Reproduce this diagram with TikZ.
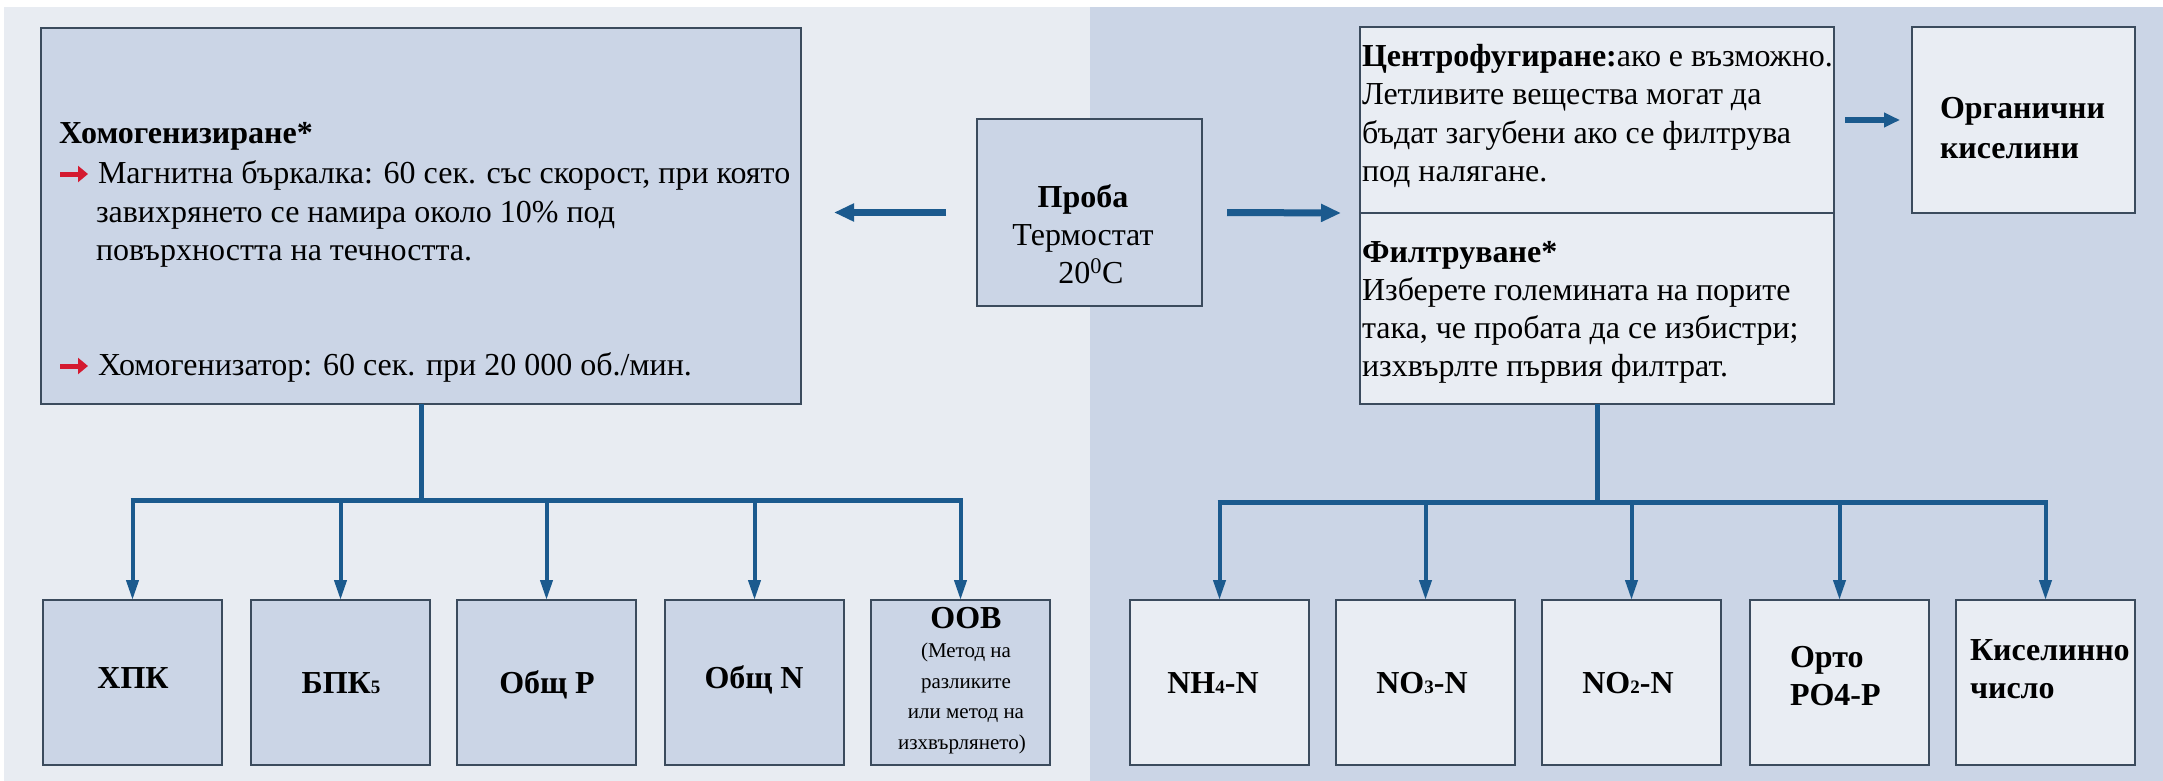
\documentclass[tikz,border=0pt]{standalone}
\usepackage{fontspec}
\setmainfont{Liberation Serif}
\usetikzlibrary{arrows.meta}
\definecolor{bgL}{HTML}{E8ECF2}
\definecolor{bgR}{HTML}{CBD5E6}
\definecolor{fillD}{HTML}{CBD5E6}
\definecolor{fillL}{HTML}{E9EDF3}
\definecolor{edgeC}{HTML}{3B4B5D}
\definecolor{flowC}{HTML}{1B5A8E}
\definecolor{redC}{HTML}{D41A30}
\newcommand\fsz[2]{\fontsize{#1}{#2}\selectfont}
\newcommand\lowsub[1]{{\fsz{19}{19}#1}}
\tikzset{
  box/.style={draw=edgeC, line width=2pt, anchor=north west, inner sep=0pt, outer sep=0pt},
  txt/.style={inner sep=0pt, outer sep=0pt, font=\fsz{32}{38}},
  btxt/.style={inner sep=0pt, outer sep=0pt, font=\fsz{32}{38}\bfseries},
  stxt/.style={inner sep=0pt, outer sep=0pt, font=\fsz{21}{30}},
  flowarr/.style={draw=flowC, line width=7pt, -{Triangle[length=20pt,width=17pt]}},
  smallarr/.style={draw=flowC, line width=6pt, -{Triangle[length=16pt,width=14pt]}},
  trunk/.style={draw=flowC, line width=5pt},
  drop/.style={draw=flowC, line width=4pt, -{Triangle[length=20pt,width=12pt]}},
  bulletarr/.style={draw=redC, line width=5pt, -{Triangle[length=10pt,width=16pt]}},
}
\begin{document}
\begin{tikzpicture}[x=1pt,y=-1pt]
\useasboundingbox (0,0) rectangle (2163,781);
\fill[white] (0,0) rectangle (2163,781);
\fill[bgL] (4,7) rectangle (1090,781);
\fill[bgR] (1090,7) rectangle (2163,781);

% main boxes
\node[box, fill=fillD, minimum width=760pt, minimum height=376pt] (homog) at (41,28) {};
\node[box, fill=fillD, minimum width=225pt, minimum height=187pt] (proba) at (977,119) {};
\node[box, fill=fillL, minimum width=474pt, minimum height=186pt] (cent) at (1360,27) {};
\node[box, fill=fillL, minimum width=474pt, minimum height=191pt] (filt) at (1360,213) {};
\node[box, fill=fillL, minimum width=223pt, minimum height=186pt] (org) at (1912,27) {};

% left box text
\node[btxt, anchor=base west] (h0) at (59,143) {Хомогенизиране*};
\coordinate (b1s) at (60,174); \coordinate (b1e) at (88,174);
\draw[bulletarr] (b1s) -- (b1e);
\node[txt, anchor=base west] (h1) at (98,183) {Магнитна бъркалка: 60 сек. със скорост, при която};
\node[txt, anchor=base west] (h2) at (96,222) {завихрянето се намира около 10\% под};
\node[txt, anchor=base west] (h3) at (96,260) {повърхността на течността.};
\coordinate (b2s) at (60,366); \coordinate (b2e) at (88,366);
\draw[bulletarr] (b2s) -- (b2e);
\node[txt, anchor=base west] (h4) at (98,375) {Хомогенизатор: 60 сек. при 20 000 об./мин.};

% proba text
\node[btxt, anchor=base] (p1) at (1083,207) {Проба};
\node[txt, anchor=base] (p2) at (1083,245) {Термостат};
\node[txt, anchor=base] (p3) at (1091,283) {20\textsuperscript{0}C};

% centrifuge text
\node[txt, anchor=base west] (c1) at (1362,67) {\textbf{Центрофугиране:}ако е възможно.};
\node[txt, anchor=base west] (c2) at (1362,105) {Летливите вещества могат да};
\node[txt, anchor=base west] (c3) at (1362,143) {бъдат загубени ако се филтрува};
\node[txt, anchor=base west] (c4) at (1362,181) {под налягане.};
% filter text
\node[btxt, anchor=base west] (f1) at (1362,262) {Филтруване*};
\node[txt, anchor=base west] (f2) at (1362,300) {Изберете големината на порите};
\node[txt, anchor=base west] (f3) at (1362,338) {така, че пробата да се избистри;};
\node[txt, anchor=base west] (f4) at (1362,376) {изхвърлте първия филтрат.};
% organic text
\node[btxt, anchor=base west] (o1) at (1940,119) {Органични};
\node[btxt, anchor=base west] (o2) at (1940,158) {киселини};

% arrows from proba
\draw[flowarr] ([xshift=-31pt]proba.west) -- ([xshift=33pt]proba.west -| homog.east);
\draw[flowarr] ([xshift=25pt]proba.east) -- ([xshift=-19pt]cent.south west);
\draw[smallarr] ([xshift=11pt]cent.east) -- ([xshift=-12pt]org.west);

% bottom left boxes
\foreach \n/\x in {l1/43, l2/251, l3/457, l4/665, l5/871}{
  \node[box, fill=fillD, minimum width=179pt, minimum height=165pt] (\n) at (\x,600) {};
}
% bottom right boxes
\foreach \n/\x in {r1/1130, r2/1336, r3/1542, r4/1750, r5/1956}{
  \node[box, fill=fillL, minimum width=179pt, minimum height=165pt] (\n) at (\x,600) {};
}

% left tree
\coordinate (hL) at (421,500);
\draw[trunk] (homog.south) -- (hL);
\draw[trunk] ([xshift=-2pt]l1.north |- hL) -- ([xshift=2pt]l5.north |- hL);
\foreach \n in {l1,l2,l3,l4,l5}{
  \draw[drop] (\n.north |- hL) -- (\n.north);
}
% right tree
\coordinate (hR) at (1597,502);
\draw[trunk] (filt.south) -- (hR);
\draw[trunk] ([xshift=-2pt]r1.north |- hR) -- ([xshift=2pt]r5.north |- hR);
\foreach \n in {r1,r2,r3,r4,r5}{
  \draw[drop] (\n.north |- hR) -- (\n.north);
}

% bottom left labels
\node[btxt, anchor=base] (t1) at (133,688) {ХПК};
\node[btxt, anchor=base] (t2) at (341,693) {БПК\lowsub{5}};
\node[btxt, anchor=base] (t3) at (547,693) {Общ P};
\node[btxt, anchor=base] (t4) at (754,688) {Общ N};
\node[btxt, anchor=base] (t5) at (966,628) {ООВ};
\node[stxt, anchor=base] (t6) at (966,657) {(Метод на};
\node[stxt, anchor=base] (t7) at (966,688) {разликите};
\node[stxt, anchor=base] (t8) at (966,718) {или метод на};
\node[stxt, anchor=base] (t9) at (962,749) {изхвърлянето)};

% bottom right labels
\node[btxt, anchor=base] (u1) at (1213,693) {NH\lowsub{4}-N};
\node[btxt, anchor=base] (u2) at (1422,693) {NO\lowsub{3}-N};
\node[btxt, anchor=base] (u3) at (1628,693) {NO\lowsub{2}-N};
\node[btxt, anchor=base west] (u4) at (1790,667) {Орто};
\node[btxt, anchor=base west] (u5) at (1790,705) {PO4-P};
\node[btxt, anchor=base west] (u6) at (1970,660) {Киселинно};
\node[btxt, anchor=base west] (u7) at (1970,698) {число};
\end{tikzpicture}
\end{document}
